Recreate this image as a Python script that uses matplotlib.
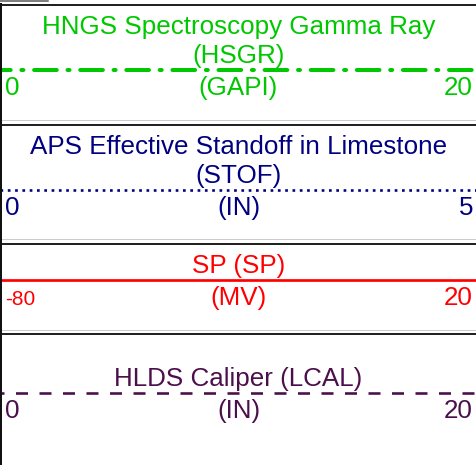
import matplotlib.pyplot as plt
from matplotlib.lines import Line2D

plt.rcParams['font.family'] = ['Liberation Sans', 'DejaVu Sans']
plt.rcParams['lines.scale_dashes'] = False

# curve header data
names = ["HNGS Spectroscopy Gamma Ray", "APS Effective Standoff in Limestone", "SP", "HLDS Caliper"]
mnemonics = ["HSGR", "STOF", "SP", "LCAL"]
units = ["GAPI", "IN", "MV", "IN"]
left_vals = [0, 0, -80, 0]
right_vals = [20, 5, 20, 20]
colors = ["#00c800", "#000080", "#ff0000", "#4b0f4b"]


def main():
    W, H = 477, 465
    px = 72 / 100  # points per pixel at dpi 100
    fig = plt.figure(figsize=(W / 100, H / 100), dpi=100)

    tops = [4, 124, 243, 333]
    bottoms = [124, 243, 333, H]
    line_y = [66, 66, 37, 60]
    styles = [
        dict(lw=4 * px, ls=(12 * px, (22.7 * px, 10.7 * px, 2 * px, 10.7 * px)),
             dash_capstyle='round'),
        dict(lw=2.6 * px, ls=(0, (2.7 * px, 4.6 * px)), dash_capstyle='butt'),
        dict(lw=2.7 * px, ls='-'),
        dict(lw=2.6 * px, ls=(8 * px, (12 * px, 11.5 * px)), dash_capstyle='butt'),
    ]
    fs = 18.7

    for i in range(len(names)):
        h = bottoms[i] - tops[i]
        ax = fig.add_axes([0, 1 - bottoms[i] / H, 1, h / H])
        ax.set_xlim(left_vals[i], right_vals[i])
        ax.set_ylim(h, 0)
        ax.axis('off')
        tr = ax.get_yaxis_transform()

        # track separators
        ax.axhline(0, color='#222222', lw=3 * px)
        if i < len(names) - 1:
            ax.axhline(h - 3.5, color='#cccccc', lw=1 * px)

        # sample line across the scale
        ax.plot([left_vals[i], right_vals[i]], [line_y[i], line_y[i]],
                color=colors[i], **styles[i])

        # title
        if len(names[i]) > 20:
            lines = [names[i], "(" + mnemonics[i] + ")"]
        else:
            lines = [names[i] + " (" + mnemonics[i] + ")"]
        base = line_y[i] - 7
        for k, s in enumerate(reversed(lines)):
            ax.text(0.5, base - 29 * k, s, transform=tr, ha='center', va='baseline',
                    color=colors[i], fontsize=fs)

        # scale row
        uy = line_y[i] + 25
        lsize = 15 if left_vals[i] < 0 else fs
        ax.text(5 / W, uy, str(left_vals[i]), transform=tr, ha='left', va='baseline',
                color=colors[i], fontsize=lsize)
        ax.text(0.5, uy, "(" + units[i] + ")", transform=tr, ha='center', va='baseline',
                color=colors[i], fontsize=fs)
        ax.text(1 - 4 / W, uy, str(right_vals[i]), transform=tr, ha='right', va='baseline',
                color=colors[i], fontsize=fs)

    # left border and top remnant
    fig.add_artist(Line2D([1 / W, 1 / W], [0, 1 - 4 / H], color='#111111', lw=2 * px))
    fig.add_artist(Line2D([0, 48 / W], [1 - 0.7 / H, 1 - 0.7 / H], color='#555555', lw=1.5 * px))

    fig.savefig("out.png", dpi=100)


if __name__ == '__main__':
    main()
